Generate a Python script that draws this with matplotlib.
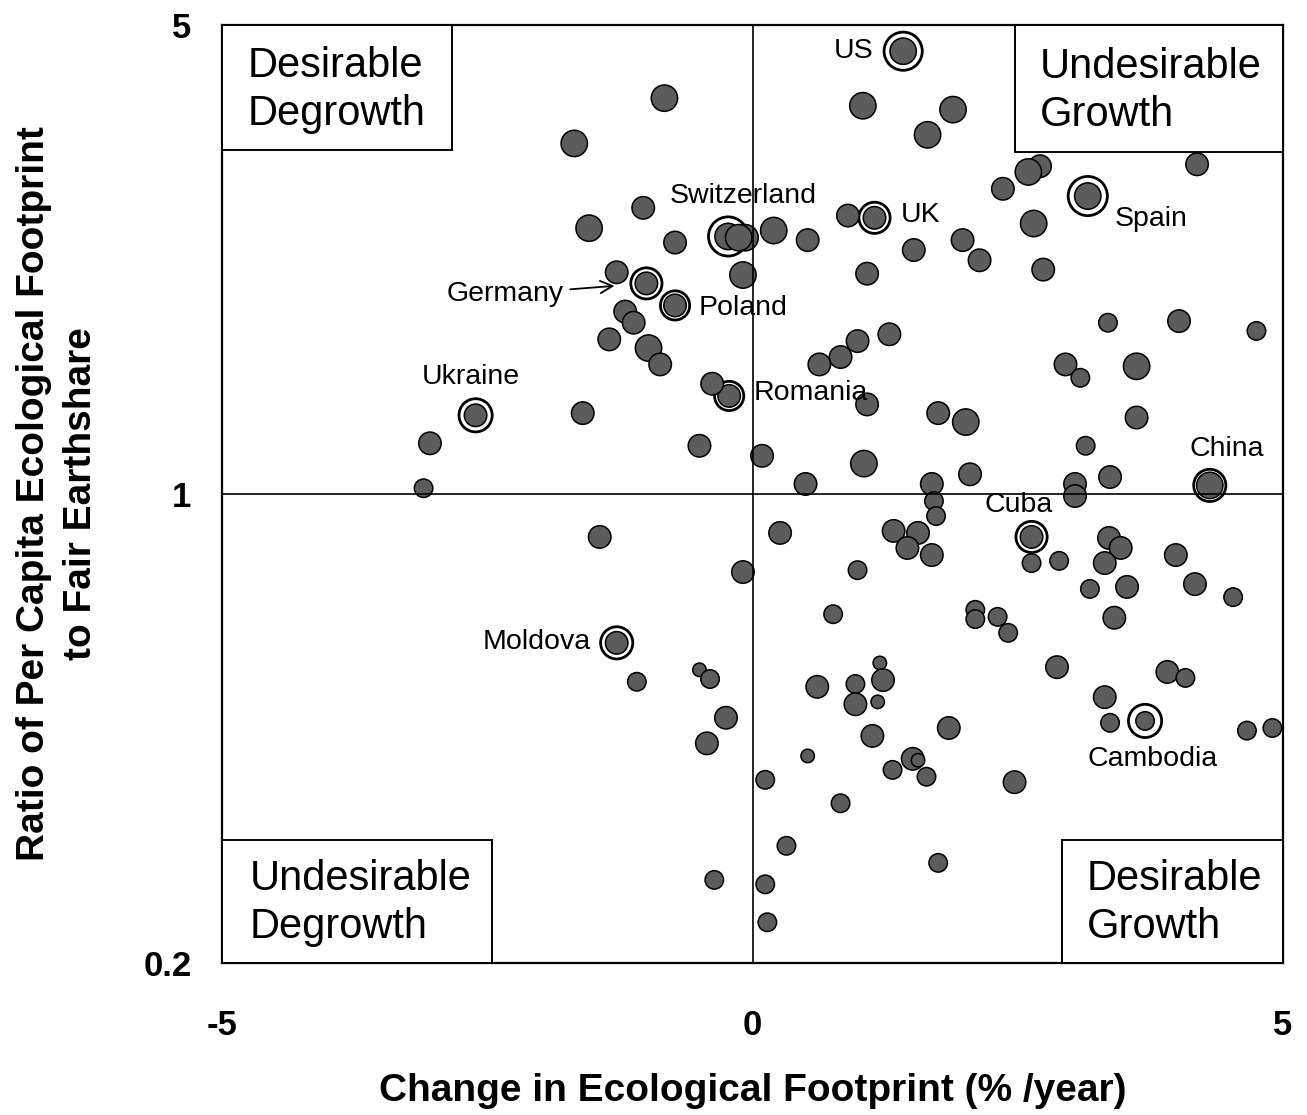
import matplotlib
matplotlib.use('Agg')
import matplotlib.pyplot as plt
from matplotlib.patches import Rectangle
from matplotlib.ticker import NullLocator

plt.rcParams['font.family'] = 'Liberation Sans'

# countries without a label: change in footprint (%/yr), footprint ratio, dot size class
change = [-0.83, -1.68, -1.03, -1.54, -0.73, -0.07, -0.13, 0.20, 0.52, -0.09,
          -1.28, -1.20, -1.12, -1.35, -0.98, -0.87, -0.38, -1.60, -3.04, -0.50,
          -3.10, 1.04, 1.89, 1.65, 2.71, 2.60, 2.36, 4.19, 0.90, 2.65,
          1.52, 1.98, 2.14, 1.08, 2.74, 4.02, 3.35, 4.75, 1.29, 0.99,
          0.83, 0.63, 2.95, 3.09, 3.62, 1.08, 1.75, 2.01, 3.62, 3.14,
          0.09, 1.05, 2.05, 3.37, 0.50, 1.69, 3.04, 3.04, 1.71, 1.73,
          -1.44, -0.09, -1.09, -0.50, -0.40, -0.25, -0.43, -0.36, 0.26, 1.33,
          1.56, 1.46, 1.69, 2.63, 2.89, 3.36, 3.47, 3.32, 3.99, 0.99,
          3.18, 3.53, 4.17, 4.53, 0.76, 2.10, 2.10, 2.31, 2.41, 3.41,
          2.87, 3.91, 4.08, 1.20, 1.23, 0.61, 0.97, 0.97, 1.18, 3.32,
          3.37, 4.66, 4.90, 1.85, 1.13, 0.52, 1.51, 1.56, 1.32, 1.64,
          0.12, 2.47, 0.83, 0.32, 1.75, 0.12, 0.14]
ratio = [3.89, 3.33, 2.67, 2.49, 2.37, 2.41, 2.41, 2.47, 2.39, 2.12,
         2.14, 1.87, 1.80, 1.70, 1.65, 1.56, 1.46, 1.32, 1.19, 1.18,
         1.02, 3.79, 3.74, 3.43, 3.08, 3.02, 2.85, 3.10, 2.60, 2.53,
         2.31, 2.39, 2.23, 2.13, 2.16, 1.81, 1.80, 1.75, 1.73, 1.69,
         1.60, 1.56, 1.56, 1.49, 1.55, 1.36, 1.32, 1.28, 1.30, 1.18,
         1.14, 1.11, 1.07, 1.06, 1.035, 1.035, 1.035, 0.993, 0.976, 0.927,
         0.863, 0.765, 0.525, 0.547, 0.530, 0.464, 0.425, 0.266, 0.875, 0.881,
         0.875, 0.831, 0.811, 0.789, 0.795, 0.860, 0.831, 0.789, 0.811, 0.770,
         0.722, 0.727, 0.734, 0.702, 0.662, 0.672, 0.651, 0.656, 0.621, 0.654,
         0.552, 0.543, 0.532, 0.560, 0.528, 0.516, 0.521, 0.486, 0.490, 0.498,
         0.456, 0.444, 0.448, 0.448, 0.436, 0.407, 0.403, 0.401, 0.388, 0.379,
         0.375, 0.372, 0.346, 0.299, 0.282, 0.262, 0.230]
dot_class = ['L', 'L', 'M', 'L', 'M', 'L', 'L', 'L', 'M', 'L',
             'M', 'M', 'M', 'M', 'L', 'M', 'M', 'M', 'M', 'M',
             'S', 'L', 'L', 'L', 'M', 'L', 'M', 'M', 'M', 'L',
             'M', 'M', 'M', 'M', 'M', 'M', 'S', 'S', 'M', 'M',
             'M', 'M', 'M', 'S', 'L', 'M', 'M', 'L', 'M', 'S',
             'M', 'L', 'M', 'M', 'M', 'M', 'M', 'M', 'S', 'S',
             'M', 'M', 'S', 'T', 'S', 'M', 'M', 'S', 'M', 'M',
             'M', 'M', 'M', 'S', 'S', 'M', 'M', 'M', 'M', 'S',
             'S', 'M', 'M', 'S', 'S', 'S', 'S', 'S', 'S', 'M',
             'M', 'M', 'S', 'T', 'M', 'M', 'S', 'M', 'T', 'M',
             'S', 'S', 'S', 'M', 'M', 'T', 'M', 'T', 'S', 'S',
             'S', 'M', 'S', 'S', 'S', 'S', 'S']

# labelled countries
names = ['US', 'UK', 'Switzerland', 'Spain', 'Germany', 'Poland', 'Romania',
         'Ukraine', 'China', 'Cuba', 'Moldova', 'Cambodia']
name_change = [1.42, 1.15, -0.23, 3.16, -1.00, -0.73, -0.22, -2.61, 4.31, 2.63, -1.28, 3.70]
name_ratio = [4.57, 2.58, 2.42, 2.78, 2.06, 1.91, 1.40, 1.31, 1.03, 0.863, 0.600, 0.459]
name_dot = ['L', 'M', 'L', 'L', 'M', 'M', 'M', 'M', 'L', 'M', 'M', 'S']
ring_px = [41, 34, 42, 42, 34, 32, 32, 36, 35, 34, 35, 36]
# label offset from the point (pixels) and alignment
label_off = [(-30, 0), (26, 3), (15, 40), (27, -23), (-83, -11), (24, -3), (24, 3),
             (-5, 38), (17, 36), (-13, 32), (-26, 1), (7, -38)]
label_ha = ['right', 'left', 'center', 'left', 'right', 'left', 'left',
            'center', 'center', 'center', 'right', 'center']

size_of = {'L': 360, 'M': 262, 'S': 177, 'T': 94}
grey = '#5c5c5c'

fig = plt.figure(figsize=(13.07, 11.15), dpi=100)
ax = fig.add_axes([222 / 1307, 152 / 1115, 1061 / 1307, 938 / 1115])

# rings behind the labelled dots
ring_s = [((r - 2.8) * 0.72) ** 2 for r in ring_px]
ax.scatter(name_change, name_ratio, s=ring_s, facecolors='white',
           edgecolors='black', linewidths=2.0, zorder=2.5)
ax.scatter(name_change, name_ratio, s=[size_of[c] for c in name_dot], c=grey,
           edgecolors='black', linewidths=1.1, zorder=3)
ax.scatter(change, ratio, s=[size_of[c] for c in dot_class], c=grey,
           edgecolors='black', linewidths=1.1, zorder=3)

ax.axvline(0, color='black', lw=1.2, zorder=4)
ax.axhline(1, color='black', lw=1.2, zorder=4)

for i, name in enumerate(names):
    kw = {}
    if name == 'Germany':
        kw['arrowprops'] = dict(arrowstyle='->', color='black', lw=1.3,
                                shrinkA=3, shrinkB=23, mutation_scale=22)
    ax.annotate(name, xy=(name_change[i], name_ratio[i]), xytext=label_off[i],
                textcoords='offset pixels', ha=label_ha[i], va='center',
                fontsize=20.5, zorder=6, **kw)

# quadrant boxes
quads = [
    ('Desirable\nDegrowth', (0.0, 0.8667), 0.2168, 0.1333, (0.0245, 0.9307)),
    ('Undesirable\nGrowth', (0.7474, 0.8646), 0.2526, 0.1354, (0.771, 0.9296)),
    ('Undesirable\nDegrowth', (0.0, 0.0), 0.2545, 0.1311, (0.0264, 0.064)),
    ('Desirable\nGrowth', (0.7917, 0.0), 0.2083, 0.1311, (0.8153, 0.064)),
]
for txt, xy, w, h, tpos in quads:
    ax.add_patch(Rectangle(xy, w, h, transform=ax.transAxes, facecolor='white',
                           edgecolor='black', lw=1.4, zorder=5))
    ax.text(tpos[0], tpos[1], txt, transform=ax.transAxes, ha='left', va='center',
            fontsize=30, linespacing=1.27, zorder=6)

ax.set_yscale('log')
ax.set_xlim(-5, 5)
ax.set_ylim(0.2, 5)
ax.set_xticks([-5, 0, 5])
ax.set_xticklabels(['-5', '0', '5'])
ax.set_yticks([0.2, 1, 5])
ax.set_yticklabels(['0.2', '1', '5'])
ax.yaxis.set_minor_locator(NullLocator())
ax.tick_params(axis='x', length=0, pad=33, labelsize=25)
ax.tick_params(axis='y', length=0, pad=22, labelsize=25)
for lab in ax.get_xticklabels() + ax.get_yticklabels():
    lab.set_fontweight('bold')
for sp in ax.spines.values():
    sp.set_linewidth(1.6)

ax.set_xlabel('Change in Ecological Footprint (% /year)', fontsize=28, fontweight='bold')
ax.set_ylabel('Ratio of Per Capita Ecological Footprint\nto Fair Earthshare',
              fontsize=28, fontweight='bold', linespacing=1.4)
ax.xaxis.set_label_coords(0.5, -0.117)
ax.yaxis.set_label_coords(-0.116, 0.5)

fig.savefig('out.png', dpi=100)
